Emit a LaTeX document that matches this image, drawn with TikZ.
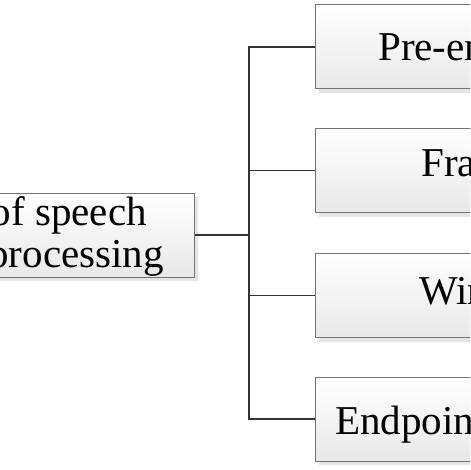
\documentclass[tikz,border=0pt]{standalone}
\usepackage{fontspec}
\setmainfont{Liberation Serif}
\usetikzlibrary{shadows}
\begin{document}
\begin{tikzpicture}[x=1pt,y=1pt,
  box/.style={draw=black!55, line width=1pt, top color=white, bottom color=black!9,
    drop shadow={shadow xshift=4pt, shadow yshift=-4pt, fill=black!10, opacity=1},
    inner sep=0pt},
  rbox/.style={box, minimum width=285pt, minimum height=84pt},
  conn/.style={draw=black!80, line width=1.1pt},
  lbl/.style={inner sep=0pt, font=\fontsize{41}{49}\selectfont}]
\useasboundingbox (0,0) rectangle (470,-470);
\clip (0,0) rectangle (470,-470);
\fill[white] (0,0) rectangle (470,-470);
\node[box, minimum width=294pt, minimum height=84pt] (L) at (47,-235) {};
\node[rbox] (A) at (457.5,-47) {};
\node[rbox] (B) at (457.5,-170.5) {};
\node[rbox] (C) at (457.5,-295.5) {};
\node[rbox] (D) at (457.5,-419) {};
\coordinate (J) at (249,-235);
\draw[conn] (L.east) -- (J);
\draw[conn] (J) |- (A.west);
\draw[conn] (J) |- (B.west);
\draw[conn] (J) |- (C.west);
\draw[conn] (J) |- (D.west);
\node[lbl, anchor=base east] (l1) at (147,-225) {of speech};
\node[lbl, anchor=base east] (l2) at (164,-267) {processing};
\node[lbl, anchor=base west] (a1) at (378,-60.5) {Pre-emphasis};
\node[lbl, anchor=base west] (b1) at (421,-177) {Framing};
\node[lbl, anchor=base west] (c1) at (419,-304) {Windowing};
\node[lbl, anchor=base west] (d1) at (335,-434.5) {Endpoint detection};
\end{tikzpicture}
\end{document}
